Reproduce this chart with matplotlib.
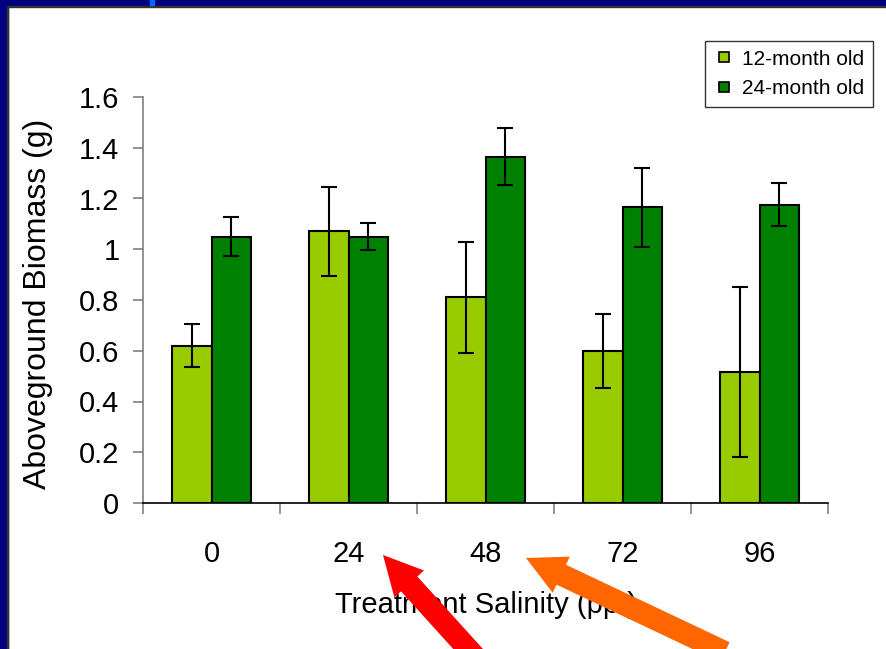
import numpy as np
import matplotlib.pyplot as plt
from matplotlib.patches import Rectangle, FancyArrow
from matplotlib.lines import Line2D

# data
salinity = ['0', '24', '48', '72', '96']
biomass_12 = [0.62, 1.07, 0.81, 0.60, 0.515]
err_12 = [0.085, 0.175, 0.22, 0.145, 0.335]
biomass_24 = [1.05, 1.05, 1.365, 1.165, 1.175]
err_24 = [0.078, 0.052, 0.112, 0.155, 0.085]
series_names = ['12-month old', '24-month old']
series_colors = ['#99CC00', '#008000']

plt.rcParams['font.family'] = ['Liberation Sans', 'DejaVu Sans']

W, H = 886, 649
fig = plt.figure(figsize=(W / 100, H / 100), dpi=100)
fig.patch.set_facecolor('white')

# slide frame (navy strips)
fig.add_artist(Rectangle((0, 1 - 6 / H), 1, 6 / H, transform=fig.transFigure,
                         color='#000080', zorder=0))
fig.add_artist(Rectangle((0, 0), 8 / W, 1, transform=fig.transFigure,
                         color='#000080', zorder=0))
fig.add_artist(Rectangle((7 / W, 0), 1.2 / W, 1 - 6 / H, transform=fig.transFigure,
                         color='#333333', zorder=0))
fig.add_artist(Rectangle((8 / W, 1 - 7 / H), 1 - 8 / W, 1.2 / H,
                         transform=fig.transFigure, color='#333333', zorder=0))
fig.add_artist(Rectangle((150 / W, 1 - 5 / H), 4 / W, 5 / H,
                         transform=fig.transFigure, color='#0066FF', zorder=1))

ax = fig.add_axes([143 / W, 1 - 503 / H, 685 / W, 406 / H])

x = np.arange(len(salinity))
w = 0.285
ekw = dict(ecolor='black', elinewidth=1.5, capsize=5.8, capthick=1.5)
ax.bar(x - w / 2, biomass_12, w, yerr=err_12, color=series_colors[0],
       edgecolor='black', linewidth=1.5, error_kw=ekw)
ax.bar(x + w / 2, biomass_24, w, yerr=err_24, color=series_colors[1],
       edgecolor='black', linewidth=1.5, error_kw=ekw)

ax.set_xlim(-0.5, len(salinity) - 0.5)
ax.set_ylim(0, 1.6)
ax.set_yticks(np.arange(0, 1.61, 0.2))
ax.set_yticklabels(['0', '0.2', '0.4', '0.6', '0.8', '1', '1.2', '1.4', '1.6'])
ax.set_xticks(x)
ax.set_xticklabels(salinity)
ax.set_xticks(np.arange(-0.5, len(salinity), 1), minor=True)

ax.tick_params(axis='x', which='major', length=0, pad=27, labelsize=21)
ax.tick_params(axis='x', which='minor', length=8, width=1.2, color='#808080')
ax.tick_params(axis='y', length=7, width=1.2, color='#808080', pad=10,
               labelsize=21)

for s in ['top', 'right']:
    ax.spines[s].set_visible(False)
ax.spines['left'].set_color('#808080')
ax.spines['left'].set_linewidth(1.2)
ax.spines['bottom'].set_color('black')
ax.spines['bottom'].set_linewidth(1.2)

ax.set_ylabel('Aboveground Biomass (g)', fontsize=23)
ax.yaxis.set_label_coords(-0.132, 0.49)
ax.set_xlabel('Treatment Salinity (ppt)', fontsize=21)
ax.xaxis.set_label_coords(0.5, -0.252)
ax.xaxis.label.set_va('center')

handles = [Line2D([], [], ls='none', marker='s', markersize=7,
                  markerfacecolor=c, markeredgecolor='black',
                  markeredgewidth=1.2) for c in series_colors]
leg = ax.legend(handles, series_names, loc='upper left',
                bbox_to_anchor=(705 / W, 1 - 41 / H),
                bbox_transform=fig.transFigure, fontsize=15, frameon=True,
                fancybox=False, handlelength=1.0, handletextpad=0.35,
                borderpad=0.42, labelspacing=0.5, borderaxespad=0)
leg.get_frame().set_edgecolor('black')
leg.get_frame().set_linewidth(1.0)

# arrows pointing at 24 and 48
inch = fig.dpi_scale_trans


def arrow(tip, direction, color):
    d = np.array(direction, float)
    d /= np.linalg.norm(d)
    length = 220
    tail = np.array(tip) + d * length
    tx, ty = tail[0] / 100, (H - tail[1]) / 100
    dx, dy = -d[0] * length / 100, d[1] * length / 100
    fig.add_artist(FancyArrow(tx, ty, dx, dy, width=0.22, head_width=0.40,
                              head_length=0.39, length_includes_head=True,
                              transform=inch, color=color, lw=0, zorder=10))


arrow((383, 555), (0.67, 0.74), '#FF0000')
arrow((526, 558), (0.904, 0.428), '#FF6600')

fig.savefig('out.png', dpi=100)
